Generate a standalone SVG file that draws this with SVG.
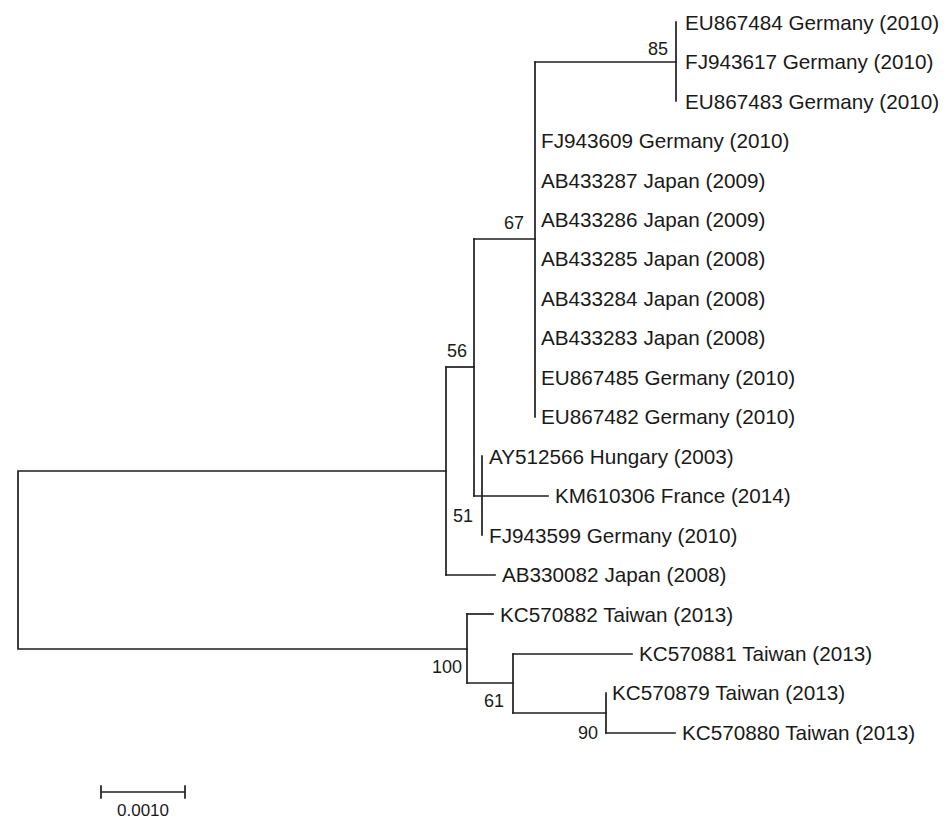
<svg xmlns="http://www.w3.org/2000/svg" width="950" height="828" viewBox="0 0 950 828">
<style>
.br{stroke:#1e1e1e;stroke-width:1.7;fill:none;stroke-linecap:square}
.lf{font-family:"Liberation Sans",Arial,sans-serif;font-size:20.7px;fill:#1a1a1a}
.bs{font-family:"Liberation Sans",Arial,sans-serif;font-size:18px;fill:#1a1a1a}
.sc{font-family:"Liberation Sans",Arial,sans-serif;font-size:17px;fill:#1a1a1a}
</style>
<rect width="950" height="828" fill="#ffffff"/>
<g id="connectors" class="br">
<!-- root -->
<path d="M446,471 H18 V649 H467"/>
<!-- node 56 -->
<path d="M446,367 V575"/>
<path d="M446,367 H474"/>
<path d="M446,575 H495"/>
<!-- node x=474 -->
<path d="M474,239 V496"/>
<path d="M474,239 H535"/>
<path d="M474,496 H548"/>
<!-- node 67 -->
<path d="M535,62 V417"/>
<path d="M535,62 H676"/>
<!-- node 85 -->
<path d="M676,22 V101"/>
<!-- node 51 -->
<path d="M482,456 V535"/>
<!-- node 100 -->
<path d="M467,614 V683"/>
<path d="M467,614 H493"/>
<path d="M467,683 H513"/>
<!-- node 61 -->
<path d="M513,654 V713"/>
<path d="M513,654 H632"/>
<path d="M513,713 H606"/>
<!-- node 90 -->
<path d="M606,693 V733"/>
<path d="M606,733 H675"/>
</g>
<g id="bootstrap">
<text class="bs" x="668" y="55" text-anchor="end">85</text>
<text class="bs" x="524" y="229" text-anchor="end">67</text>
<text class="bs" x="447" y="357">56</text>
<text class="bs" x="473" y="522" text-anchor="end">51</text>
<text class="bs" x="462" y="673" text-anchor="end">100</text>
<text class="bs" x="504" y="707" text-anchor="end">61</text>
<text class="bs" x="598" y="739" text-anchor="end">90</text>
</g>
<g id="leaves">
<g id="EU867484"><text class="lf" x="685" y="29.5">EU867484 Germany (2010)</text></g>
<g id="FJ943617"><text class="lf" x="685" y="69">FJ943617 Germany (2010)</text></g>
<g id="EU867483"><text class="lf" x="685" y="108.5">EU867483 Germany (2010)</text></g>
<g id="FJ943609"><text class="lf" x="541" y="148">FJ943609 Germany (2010)</text></g>
<g id="AB433287"><text class="lf" x="541" y="187.5">AB433287 Japan (2009)</text></g>
<g id="AB433286"><text class="lf" x="541" y="227">AB433286 Japan (2009)</text></g>
<g id="AB433285"><text class="lf" x="541" y="266">AB433285 Japan (2008)</text></g>
<g id="AB433284"><text class="lf" x="541" y="305.5">AB433284 Japan (2008)</text></g>
<g id="AB433283"><text class="lf" x="541" y="345">AB433283 Japan (2008)</text></g>
<g id="EU867485"><text class="lf" x="541" y="384.5">EU867485 Germany (2010)</text></g>
<g id="EU867482"><text class="lf" x="541" y="424">EU867482 Germany (2010)</text></g>
<g id="AY512566"><text class="lf" x="489" y="463.5">AY512566 Hungary (2003)</text></g>
<g id="KM610306"><text class="lf" x="555" y="503">KM610306 France (2014)</text></g>
<g id="FJ943599"><text class="lf" x="489" y="542.5">FJ943599 Germany (2010)</text></g>
<g id="AB330082"><text class="lf" x="502" y="582">AB330082 Japan (2008)</text></g>
<g id="KC570882"><text class="lf" x="500" y="621.5">KC570882 Taiwan (2013)</text></g>
<g id="KC570881"><text class="lf" x="639" y="661">KC570881 Taiwan (2013)</text></g>
<g id="KC570879"><text class="lf" x="612" y="700">KC570879 Taiwan (2013)</text></g>
<g id="KC570880"><text class="lf" x="682" y="739.5">KC570880 Taiwan (2013)</text></g>
</g>
<g id="scalebar">
<path class="br" d="M101,792 H185 M101,786 V798 M185,786 V798"/>
<text class="sc" x="143" y="816" text-anchor="middle">0.0010</text>
</g>
</svg>
